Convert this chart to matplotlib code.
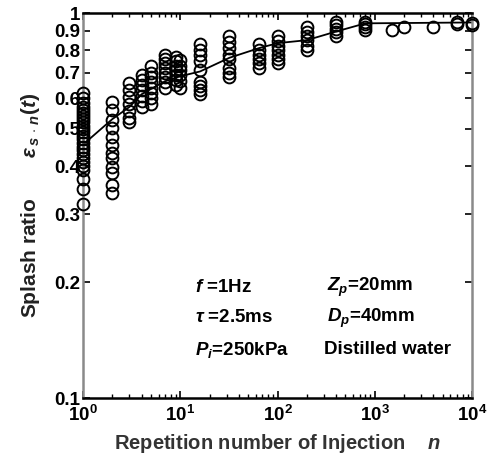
import matplotlib
matplotlib.use("Agg")
import matplotlib.pyplot as plt
import numpy as np

plt.rcParams['font.family'] = ['Liberation Sans', 'DejaVu Sans']
plt.rcParams['mathtext.fontset'] = 'custom'
plt.rcParams['mathtext.rm'] = 'Liberation Sans:bold'
plt.rcParams['mathtext.it'] = 'Liberation Sans:bold:italic'
plt.rcParams['mathtext.bf'] = 'Liberation Sans:bold'

# ---- data ----
n_values = [1, 2, 3, 4, 5, 7, 9, 10, 16, 32, 64, 100, 200, 400, 800,
            1500, 2000, 4000, 7000, 10000]
splash = {
    1: [0.62, 0.60, 0.585, 0.57, 0.56, 0.55, 0.54, 0.53, 0.52, 0.51, 0.50,
        0.49, 0.48, 0.47, 0.46, 0.45, 0.44, 0.43, 0.42, 0.41, 0.40, 0.39,
        0.37, 0.35, 0.32],
    2: [0.587, 0.56, 0.527, 0.503, 0.476, 0.454, 0.433, 0.42, 0.398, 0.384,
        0.358, 0.341],
    3: [0.658, 0.631, 0.605, 0.58, 0.557, 0.534, 0.52],
    4: [0.69, 0.67, 0.65, 0.63, 0.61, 0.59, 0.57],
    5: [0.73, 0.70, 0.68, 0.66, 0.64, 0.62, 0.60, 0.58],
    7: [0.78, 0.76, 0.74, 0.72, 0.70, 0.68, 0.66, 0.64],
    9: [0.77, 0.75, 0.73, 0.71, 0.69, 0.67, 0.65],
    10: [0.755, 0.73, 0.71, 0.69, 0.665, 0.64],
    16: [0.83, 0.80, 0.78, 0.75, 0.71, 0.66, 0.645, 0.63, 0.615],
    32: [0.87, 0.84, 0.81, 0.78, 0.76, 0.72, 0.70, 0.68],
    64: [0.83, 0.80, 0.78, 0.76, 0.74, 0.72],
    100: [0.87, 0.845, 0.82, 0.80, 0.78, 0.76, 0.74],
    200: [0.92, 0.89, 0.87, 0.85, 0.82, 0.80],
    400: [0.95, 0.93, 0.91, 0.89, 0.87],
    800: [0.95, 0.935, 0.92, 0.905],
    1500: [0.903],
    2000: [0.921],
    4000: [0.921],
    7000: [0.945, 0.935],
    10000: [0.93, 0.94],
}
curve_n = [1, 2, 3, 4, 5, 7, 10, 16, 32, 64, 100, 200, 400, 800, 10000]
curve_v = [0.455, 0.53, 0.57, 0.615, 0.635, 0.665, 0.685, 0.705, 0.765,
           0.81, 0.835, 0.85, 0.895, 0.94, 0.945]

yticks = [0.1, 0.2, 0.3, 0.4, 0.5, 0.6, 0.7, 0.8, 0.9, 1.0]
ytick_labels = ['0.1', '0.2', '0.3', '0.4', '0.5', '0.6', '0.7', '0.8', '0.9', '1']
xticks = [1, 10, 100, 1000, 10000]
xtick_labels = [r'$10^0$', r'$10^1$', r'$10^2$', r'$10^3$', r'$10^4$']

# ---- figure ----
fig = plt.figure(figsize=(4.92, 4.61), dpi=100)
ax = fig.add_axes([83/492, 1-398/461, (472-83)/492, (398-13)/461])

xs, ys = [], []
for n in n_values:
    for v in splash[n]:
        xs.append(n)
        ys.append(v)
ax.plot(xs, ys, linestyle='none', marker='o', markersize=8.5,
        markerfacecolor='none', markeredgecolor='black', markeredgewidth=1.4,
        clip_on=False, zorder=3)
ax.plot(curve_n, curve_v, color='black', linewidth=1.3, zorder=2)

ax.set_xscale('log')
ax.set_yscale('log')
ax.set_xlim(1, 10000)
ax.set_ylim(0.1, 1.0)

ax.set_yticks(yticks)
ax.set_yticklabels(ytick_labels)
ax.yaxis.set_minor_locator(matplotlib.ticker.NullLocator())
ax.set_xticks(xticks)
ax.set_xticklabels(xtick_labels)
ax.xaxis.set_minor_locator(matplotlib.ticker.LogLocator(base=10, subs=np.arange(2, 10)))
ax.xaxis.set_minor_formatter(matplotlib.ticker.NullFormatter())

ax.tick_params(axis='both', which='major', direction='in', top=True, right=True,
               length=5, width=1.2, labelsize=13.5)
ax.tick_params(axis='y', which='major', pad=2)
ax.tick_params(axis='x', which='major', pad=5)
ax.tick_params(axis='x', which='minor', direction='in', top=True, bottom=True,
               length=3, width=1.0)
for lab in ax.get_xticklabels() + ax.get_yticklabels():
    lab.set_fontweight('bold')

for side in ['top', 'bottom']:
    ax.spines[side].set_color('black')
    ax.spines[side].set_linewidth(1.8)
for side in ['left', 'right']:
    ax.spines[side].set_color('#8a8a8a')
    ax.spines[side].set_linewidth(1.8)

ax.set_xlabel(r'Repetition number of Injection    $n$', fontsize=14.5,
              fontweight='bold', color='#333333', labelpad=5)
ax.set_ylabel(r'Splash ratio       $\varepsilon_{\,s\,\cdot\,n}(t)$', fontsize=15,
              fontweight='bold', color='#222222', labelpad=9)

tkw = dict(transform=ax.transAxes, fontsize=13.5, fontweight='bold', va='center')
ax.text(0.288, 0.286, r'$f$ =1Hz', **tkw)
ax.text(0.288, 0.208, r'$\tau$ =2.5ms', **tkw)
ax.text(0.288, 0.125, r'$P_i$=250kPa', **tkw)
ax.text(0.627, 0.286, r'$Z_p$=20mm', **tkw)
ax.text(0.627, 0.208, r'$D_p$=40mm', **tkw)
ax.text(0.620, 0.125, 'Distilled water', **tkw)

fig.savefig('out.png', dpi=100)
